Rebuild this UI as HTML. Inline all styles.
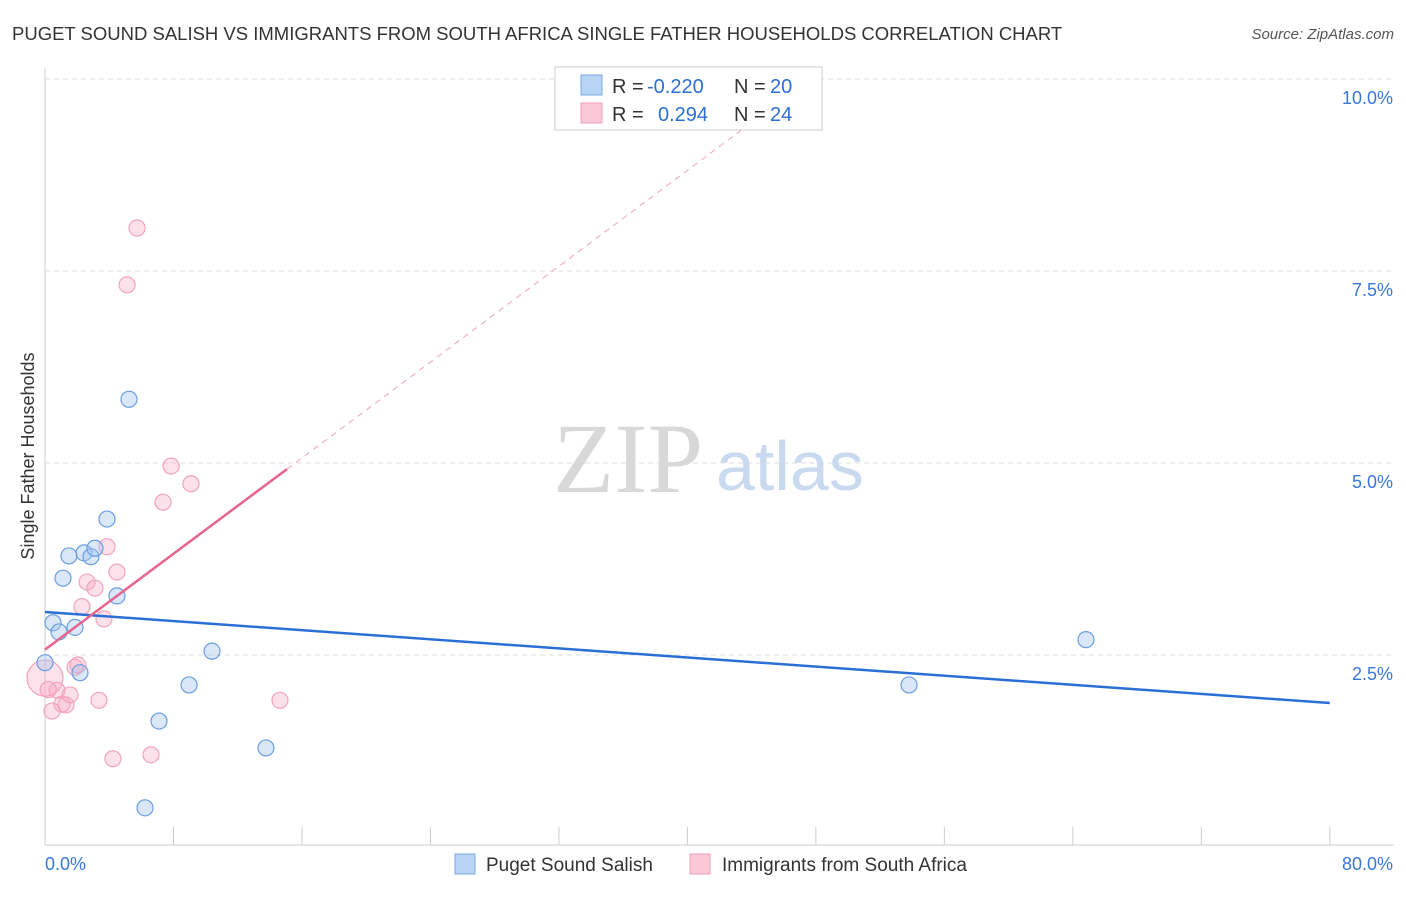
<!DOCTYPE html>
<html><head><meta charset="utf-8"><style>
body{margin:0;background:#fff;font-family:"Liberation Sans",sans-serif;}
</style></head><body>
<svg width="1406" height="892" xmlns="http://www.w3.org/2000/svg">
<text x="12" y="40" font-size="18.5" fill="#333">PUGET SOUND SALISH VS IMMIGRANTS FROM SOUTH AFRICA SINGLE FATHER HOUSEHOLDS CORRELATION CHART</text>
<text x="1394" y="39" font-size="15" fill="#555" font-style="italic" text-anchor="end">Source: ZipAtlas.com</text>
<g id="grid"></g>
<text x="553" y="492" font-size="100" fill="#d8d8d8" font-family="Liberation Serif,serif">ZIP</text>
<text x="716" y="490" font-size="70" fill="#c9d9f0">atlas</text>
<g id="marks"></g>
<text x="34" y="456" font-size="18" fill="#333" text-anchor="middle" transform="rotate(-90 34 456)">Single Father Households</text>
<g font-size="20">
<rect x="555" y="67" width="267" height="63" fill="#fff" stroke="#ccc"/>
<rect x="581" y="75" width="21" height="20" fill="#b8d4f5" stroke="#7aa8e0"/>
<rect x="581" y="103" width="21" height="20" fill="#fbc8d8" stroke="#f0a0b8"/>
<text x="612" y="93" fill="#333">R =</text>
<text x="647" y="93" fill="#2a6fd6">-0.220</text>
<text x="734" y="93" fill="#333">N =</text>
<text x="770" y="93" fill="#2a6fd6">20</text>
<text x="612" y="121" fill="#333">R =</text>
<text x="658" y="121" fill="#2a6fd6">0.294</text>
<text x="734" y="121" fill="#333">N =</text>
<text x="770" y="121" fill="#2a6fd6">24</text>
</g>
<g>
<rect x="455" y="854" width="20" height="20" fill="#b8d4f5" stroke="#7aa8e0"/>
<text x="486" y="871" font-size="19" fill="#333">Puget Sound Salish</text>
<rect x="690" y="854" width="20" height="20" fill="#fbc8d8" stroke="#f0a0b8"/>
<text x="722" y="871" font-size="19" fill="#333">Immigrants from South Africa</text>
</g>
</svg>
<script>
const blueX=[0,0.5,0.87,1.12,1.49,1.87,2.18,2.43,2.86,3.11,3.86,4.48,5.23,6.23,7.10,8.97,10.40,13.76,53.80,64.82];
const blueY=[2.40,2.92,2.80,3.50,3.79,2.86,2.27,3.83,3.78,3.89,4.27,3.27,5.83,0.51,1.64,2.11,2.55,1.29,2.11,2.70];
const pinkX=[0,0.44,0.75,1.06,1.31,1.56,1.87,2.05,2.30,2.62,3.11,3.36,3.67,3.86,4.23,4.48,5.11,5.73,6.60,7.35,7.85,9.09,14.63,0.2];
const pinkY=[2.20,1.77,2.04,1.86,1.85,1.98,2.34,2.37,3.13,3.45,3.37,1.91,2.97,3.91,1.15,3.58,7.32,8.06,1.20,4.49,4.96,4.73,1.91,2.05];
const yTicks=[2.5,5.0,7.5,10.0];
const xTicks=[0,8,16,24,32,40,48,56,64,72,80];
const blueTrend=[3.06,1.875];
const pinkTrend=[2.57,0.156];
const NS="http://www.w3.org/2000/svg";
const X=v=>45+v*16.06, Y=v=>847-v*76.8;
function mk(t,a,p){const e=document.createElementNS(NS,t);for(const k in a)e.setAttribute(k,a[k]);p.appendChild(e);return e;}
const g=document.getElementById('grid'), m=document.getElementById('marks');
yTicks.forEach(t=>{
 const l=mk('line',{x1:45,x2:1394,y1:Y(t),y2:Y(t),stroke:'#ddd','stroke-dasharray':'5,4'},g);
 
 
 const tx=mk('text',{x:1393,y:Y(t)+25,'font-size':18,fill:'#3a78d8','text-anchor':'end'},g);
 tx.textContent=t.toFixed(1)+'%';
 
 
});
const ax=mk('line',{x1:45,x2:45,y1:68,y2:845,stroke:'#ccc'},g);


const bx=mk('line',{x1:45,x2:1394,y1:845,y2:845,stroke:'#ccc'},g);


xTicks.forEach(t=>{
 const l=mk('line',{x1:X(t),x2:X(t),y1:827,y2:845,stroke:'#ccc'},g);
 
 
});
[[0,'start',45],[80,'end',1393]].forEach(([v,a,x])=>{
 const tx=mk('text',{x:x,y:870,'font-size':18,fill:'#3a78d8','text-anchor':a},g);
 tx.textContent=v.toFixed(1)+'%';
 
 
});
pinkX.forEach((x,i)=>{
 const c=mk('circle',{cx:X(x),cy:Y(pinkY[i]),r:i==0?18:8,fill:'rgba(248,170,195,0.35)',stroke:'#f2a3bc','stroke-width':1.2},m);
 
 
});
blueX.forEach((x,i)=>{
 const c=mk('circle',{cx:X(x),cy:Y(blueY[i]),r:8,fill:'rgba(160,195,240,0.4)',stroke:'#6a9ee0','stroke-width':1.2},m);
 
 
});
const bt=mk('line',{x1:X(0),y1:Y(blueTrend[0]),x2:X(80),y2:Y(blueTrend[1]),stroke:'#2a6fd6','stroke-width':2.5},m);


const pe=15.07, pd=43.6;
const ps=mk('line',{x1:X(0),y1:Y(pinkTrend[0]),x2:X(pe),y2:Y(pinkTrend[0]+pinkTrend[1]*pe),stroke:'#e8638f','stroke-width':2.5},m);


const pdl=mk('line',{x1:X(pe),y1:Y(pinkTrend[0]+pinkTrend[1]*pe),x2:X(pd),y2:Y(pinkTrend[0]+pinkTrend[1]*pd),stroke:'#f0b0c4','stroke-width':1.2,'stroke-dasharray':'6,5'},m);


</script>
</body></html>
